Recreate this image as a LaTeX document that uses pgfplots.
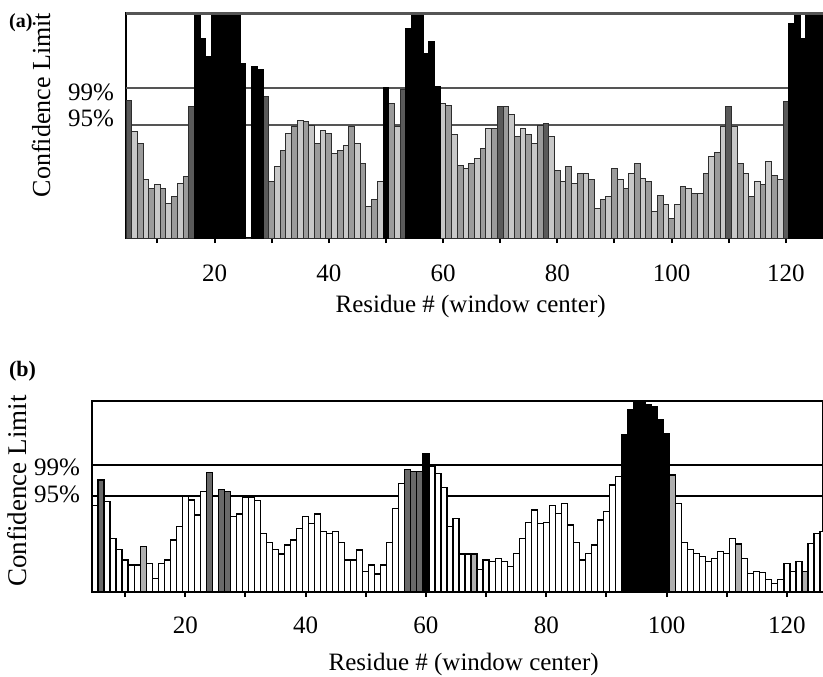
\documentclass[border=0pt]{standalone}
\usepackage{fontspec}
\setmainfont{Liberation Serif}
\usepackage{pgfplots}
\usepackage{pgfplotstable}
\pgfplotsset{compat=1.18}

\definecolor{lineA}{RGB}{85,85,85}
\definecolor{edgeA}{RGB}{45,45,45}
\definecolor{lightA}{RGB}{200,200,200}
\definecolor{midA}{RGB}{155,155,155}
\definecolor{darkA}{RGB}{90,90,90}
\definecolor{lightB}{RGB}{175,175,175}
\definecolor{darkB}{RGB}{105,105,105}

% residue, value (0-100 = axis height), class: 0 light, 1 mid, 2 dark, 3 black
\pgfplotstableread{
r v c
5 61.3 2
6 47.3 0
7 42.1 1
8 25.8 0
9 22.1 1
10 23.6 0
11 22.1 1
12 15.4 0
13 18.4 1
14 24.3 0
15 27.3 1
16 58.4 2
17 110 3
18 88.7 3
19 80.6 3
20 110 3
21 110 3
22 110 3
23 110 3
24 110 3
25 77.6 3
26 0 0
27 76.1 3
28 74.7 3
29 62.8 2
30 25.0 1
31 31.7 0
32 39.1 1
33 46.5 0
34 49.5 1
35 52.4 0
36 51.7 1
37 50.2 0
38 42.1 1
39 48.0 0
40 46.5 1
41 37.6 0
42 39.1 1
43 41.3 0
44 49.5 1
45 42.1 0
46 33.2 1
47 13.9 0
48 16.9 1
49 25.0 0
50 67.0 3
51 59.9 1
52 49.5 0
53 66.0 2
54 93.2 3
55 110 3
56 110 3
57 82.1 3
58 87.3 3
59 67.3 3
60 59.9 0
61 59.1 1
62 45.8 0
63 32.4 1
64 31.0 0
65 33.2 1
66 35.4 0
67 39.9 1
68 48.7 0
69 48.7 1
70 58.4 2
71 58.4 1
72 54.7 0
73 45.0 1
74 48.7 0
75 45.8 1
76 42.1 0
77 50.2 1
78 51.0 2
79 45.0 0
80 30.2 1
81 25.0 0
82 31.7 1
83 24.3 0
84 28.7 1
85 28.7 0
86 25.8 1
87 13.2 0
88 16.9 1
89 18.4 0
90 31.0 1
91 25.8 0
92 22.1 1
93 28.7 0
94 33.2 1
95 26.5 0
96 25.0 1
97 11.7 0
98 19.1 1
99 14.7 0
100 8.7 1
101 14.7 0
102 22.8 1
103 22.1 0
104 19.9 1
105 19.9 0
106 28.7 1
107 36.1 0
108 38.0 1
109 49.5 0
110 58.4 2
111 49.5 0
112 33.2 1
113 28.7 0
114 18.4 1
115 25.0 0
116 23.6 1
117 33.9 0
118 28.0 1
119 25.8 0
120 60.6 2
121 95.4 3
122 110 3
123 88.7 3
124 110 3
125 110 3
126 110 3
}\dataA

% class: 0 white, 1 light grey, 2 dark grey, 3 black
\pgfplotstableread{
r v c
5 45.5 0
6 58.6 2
7 47.3 0
8 28.1 0
9 22.3 0
10 16.8 0
11 14.1 0
12 14.1 0
13 23.7 1
14 15.0 0
15 7.2 0
16 15.0 0
17 16.8 0
18 27.2 0
19 34.2 0
20 49.9 0
21 48.2 0
22 40.3 0
23 52.5 0
24 62.5 2
25 49.9 0
26 53.8 2
27 52.5 2
28 39.4 0
29 40.8 0
30 49.6 0
31 49.6 0
32 47.8 0
33 30.7 0
34 25.8 0
35 22.3 0
36 19.9 0
37 24.6 0
38 27.2 0
39 33.3 0
40 39.4 0
41 36.0 0
42 40.8 0
43 31.6 0
44 30.7 0
45 31.6 0
46 25.8 0
47 16.8 0
48 16.8 0
49 22.0 0
50 10.6 0
51 14.1 0
52 9.4 0
53 14.1 0
54 25.8 0
55 43.8 0
56 56.9 0
57 64.2 2
58 63.0 2
59 63.0 2
60 72.6 3
61 66.0 0
62 62.1 0
63 54.8 0
64 34.2 0
65 38.6 0
66 19.9 0
67 19.9 0
68 19.9 1
69 11.9 0
70 16.8 0
71 15.9 0
72 17.6 0
73 15.9 0
74 13.3 0
75 20.2 0
76 28.1 0
77 36.3 0
78 42.9 0
79 36.0 0
80 36.3 0
81 45.5 0
82 41.2 0
83 46.4 0
84 35.1 0
85 25.8 0
86 16.8 0
87 20.2 0
88 24.6 0
89 37.7 0
90 42.1 0
91 56.0 0
92 60.4 0
93 82.2 3
94 95.3 3
95 110 3
96 110 3
97 97.9 3
98 97.0 3
99 90.1 3
100 83.1 3
101 61.3 1
102 46.4 0
103 25.8 0
104 22.3 0
105 20.2 0
106 18.5 0
107 15.9 0
108 17.6 0
109 21.1 0
110 20.2 0
111 28.1 0
112 25.1 1
113 17.6 0
114 9.8 0
115 10.6 0
116 10.1 0
117 6.6 0
118 4.5 0
119 6.6 0
120 15.0 0
121 10.6 0
122 15.9 0
123 10.6 1
124 25.5 0
125 30.7 0
126 31.6 0
}\dataB

\pgfplotsset{
  conf/.style={
    scale only axis,
    xmin=4.5, ymin=0, ymax=100,
    ybar, bar width=1, bar shift=0pt,
    clip mode=individual,
    tick pos=left, tick align=outside,
    xtick={20,40,...,120},
    minor xtick={10,30,...,110},
    major tick length=2.5pt, minor tick length=2.5pt,
    every tick/.style={black, line width=1pt},
    ytick style={draw=none},
    yticklabels={95\%,99\%},
    extra y ticks={50.2,66.5},
    extra y tick labels={},
    extra y tick style={grid=major, major tick length=0pt, tick style={draw=none}},
    /pgf/number format/assume math mode=true,
    ticklabel style={font=\fontsize{12.5}{15}\selectfont},
  },
}

\begin{document}
\begin{tikzpicture}
\useasboundingbox (0,0) rectangle (411.5pt,-338pt);

% panel (a)
\begin{axis}[conf,
    at={(63pt,-119pt)}, anchor=south west,
    width=348.5pt, height=112.5pt,
    xmax=126.5,
    ytick={53.1,64.7},
    axis line style={black, line width=0.7pt},
    major grid style={draw=lineA, line width=1.1pt},
    xticklabel style={anchor=north, yshift=-7.5pt},
]
\addplot[bar shift=0pt, fill=lightA, draw=edgeA, line width=0.5pt,
  restrict expr to domain={\thisrow{c}}{0:0}] table[x=r, y=v] {\dataA};
\addplot[bar shift=0pt, fill=midA, draw=edgeA, line width=0.5pt,
  restrict expr to domain={\thisrow{c}}{1:1}] table[x=r, y=v] {\dataA};
\addplot[bar shift=0pt, fill=darkA, draw=edgeA, line width=0.5pt,
  restrict expr to domain={\thisrow{c}}{2:2}] table[x=r, y=v] {\dataA};
\addplot[bar shift=0pt, fill=black, draw=black, line width=0.5pt,
  restrict expr to domain={\thisrow{c}}{3:3}] table[x=r, y=v] {\dataA};
\draw[lineA, line width=1.5pt] (rel axis cs:0,1) -- (rel axis cs:1,1);
\end{axis}

% panel (b)
\begin{axis}[conf,
    at={(46pt,-296pt)}, anchor=south west,
    width=365.5pt, height=95.5pt,
    xmax=126,
    ytick={51.3,65.2},
    extra y ticks={50.3,66.5},
    axis line style={black, line width=0.9pt},
    major grid style={draw=black, line width=1pt},
    xticklabel style={anchor=north, yshift=-6.5pt},
]
\addplot[bar shift=0pt, fill=white, draw=black, line width=0.6pt,
  restrict expr to domain={\thisrow{c}}{0:0}] table[x=r, y=v] {\dataB};
\addplot[bar shift=0pt, fill=lightB, draw=black, line width=0.6pt,
  restrict expr to domain={\thisrow{c}}{1:1}] table[x=r, y=v] {\dataB};
\addplot[bar shift=0pt, fill=darkB, draw=black, line width=0.6pt,
  restrict expr to domain={\thisrow{c}}{2:2}] table[x=r, y=v] {\dataB};
\addplot[bar shift=0pt, fill=black, draw=black, line width=0.6pt,
  restrict expr to domain={\thisrow{c}}{3:3}] table[x=r, y=v] {\dataB};
\end{axis}

% panel letters and axis titles
\node[font=\bfseries\fontsize{10}{12}\selectfont] at (10.4pt,-11.3pt) {(a)};
\node[font=\bfseries\fontsize{11}{13}\selectfont] at (11.3pt,-185.5pt) {(b)};
\node[rotate=90, font=\fontsize{13}{15}\selectfont] at (20.5pt,-52.5pt) {Confidence Limit};
\node[rotate=90, font=\fontsize{13.5}{15}\selectfont] at (8.5pt,-245.5pt) {Confidence Limit};
\node[anchor=base, font=\fontsize{12.5}{15}\selectfont] at (235.3pt,-156pt) {Residue \# (window center)};
\node[anchor=base, font=\fontsize{12.5}{15}\selectfont] at (231.8pt,-335pt) {Residue \# (window center)};
\end{tikzpicture}
\end{document}
